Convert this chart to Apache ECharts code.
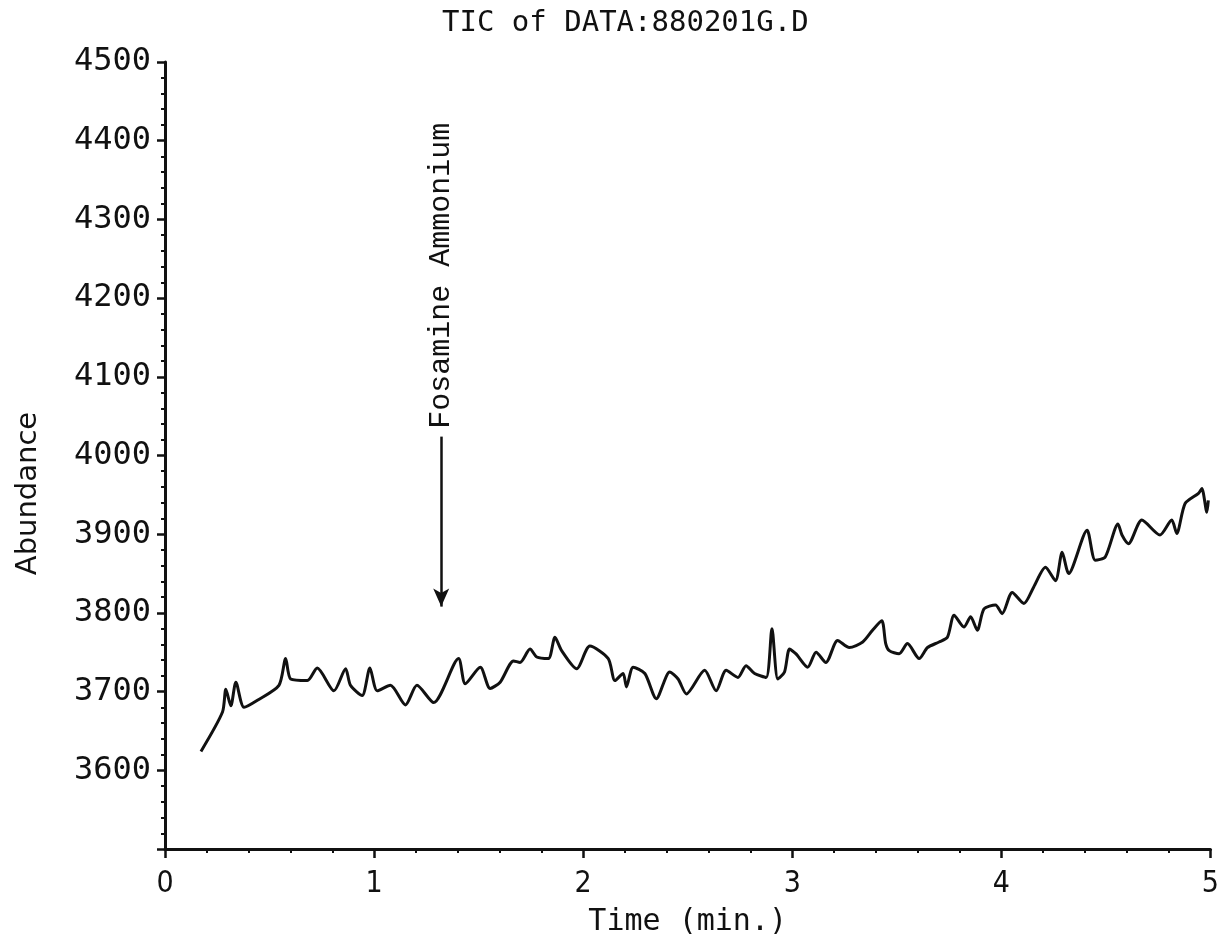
<!DOCTYPE html>
<html>
<head>
<meta charset="utf-8">
<title>TIC of DATA:880201G.D</title>
<script src="https://cdn.jsdelivr.net/npm/echarts@6/dist/echarts.min.js"></script>
<style>
    html, body { margin: 0; padding: 0; background: #fff; }
    #main { width: 1222px; height: 942px; }
</style>
</head>
<body>
<div id="main"></div>
<script>
// 数据
var times = [0.172, 0.275, 0.291, 0.315, 0.339, 0.378, 0.442, 0.545, 0.577, 0.601,
    0.681, 0.728, 0.808, 0.864, 0.887, 0.943, 0.980, 1.015, 1.078, 1.150,
    1.205, 1.285, 1.404, 1.436, 1.508, 1.555, 1.603, 1.667, 1.698, 1.746,
    1.778, 1.834, 1.865, 1.897, 1.969, 2.032, 2.120, 2.152, 2.191, 2.207,
    2.239, 2.295, 2.350, 2.414, 2.454, 2.494, 2.581, 2.636, 2.684, 2.740,
    2.779, 2.820, 2.875, 2.903, 2.931, 2.963, 2.987, 3.018, 3.074, 3.114,
    3.161, 3.217, 3.273, 3.337, 3.384, 3.428, 3.447, 3.464, 3.511, 3.551,
    3.607, 3.647, 3.702, 3.742, 3.774, 3.821, 3.853, 3.885, 3.917, 3.972,
    4.004, 4.052, 4.108, 4.155, 4.211, 4.259, 4.291, 4.322, 4.410, 4.449,
    4.497, 4.558, 4.577, 4.608, 4.672, 4.759, 4.815, 4.839, 4.879, 4.943,
    4.959, 4.983, 4.990]
var abundance = [3624, 3674, 3703, 3682, 3712, 3680, 3689, 3708, 3742, 3716,
    3714, 3730, 3701, 3729, 3708, 3695, 3730, 3701, 3708, 3683,
    3708, 3686, 3742, 3710, 3731, 3704, 3712, 3739, 3737, 3754,
    3744, 3742, 3769, 3752, 3729, 3758, 3742, 3714, 3723, 3706,
    3731, 3723, 3691, 3725, 3716, 3697, 3727, 3701, 3727, 3718,
    3733, 3723, 3718, 3780, 3716, 3725, 3754, 3748, 3731, 3750,
    3737, 3765, 3756, 3763, 3778, 3790, 3761, 3752, 3748, 3761,
    3742, 3756, 3763, 3769, 3797, 3782, 3795, 3778, 3805, 3810,
    3799, 3826, 3812, 3833, 3858, 3841, 3877, 3850, 3905, 3867,
    3871, 3913, 3899, 3888, 3918, 3899, 3918, 3901, 3939, 3952,
    3958, 3928, 3943]
var xTicks = [0, 1, 2, 3, 4, 5]
var yTicks = [3500, 3600, 3700, 3800, 3900, 4000, 4100, 4200, 4300, 4400, 4500]

var noteText = 'Fosamine Ammonium'
var noteTime = 1.321
var arrowFrom = 3808
var arrowTo = 4024
var noteStart = 4034

var chart = function () {

}

chart.prototype = {
    init: function () {
        this.myChart = echarts.init(document.getElementById('main'));
        this.initChart()
        this.initNote()
    },
    initChart: function () {
        var data = times.map(function (t, i) { return [t, abundance[i]] })

        var option = {
            animation: false,
            backgroundColor: '#fff',
            title: {
                text: 'TIC of DATA:880201G.D',
                left: 437,
                top: 4,
                textStyle: {
                    fontFamily: 'DejaVu Sans Mono',
                    fontSize: 29,
                    fontWeight: 'normal',
                    color: '#111'
                }
            },
            grid: {
                left: 165,
                right: 10,
                top: 62,
                bottom: 92
            },
            xAxis: {
                type: 'value',
                min: xTicks[0],
                max: xTicks[xTicks.length - 1],
                interval: 1,
                name: 'Time (min.)',
                nameLocation: 'middle',
                nameGap: 58,
                nameTextStyle: {
                    fontFamily: 'DejaVu Sans Mono',
                    fontSize: 30,
                    color: '#111'
                },
                axisLine: { lineStyle: { color: '#111', width: 3 } },
                axisTick: { length: 9, lineStyle: { color: '#111', width: 2.5 } },
                minorTick: { show: true, splitNumber: 5, length: 4, lineStyle: { color: '#111', width: 2 } },
                splitLine: { show: false },
                axisLabel: {
                    margin: 20,
                    fontFamily: 'DejaVu Sans Condensed',
                    fontSize: 30,
                    color: '#111'
                }
            },
            yAxis: {
                type: 'value',
                min: yTicks[0],
                max: yTicks[yTicks.length - 1],
                interval: 100,
                name: 'Abundance',
                nameLocation: 'middle',
                nameGap: 122,
                nameTextStyle: {
                    fontFamily: 'DejaVu Sans',
                    fontSize: 29,
                    color: '#111',
                    padding: [0, 76, 0, 0]
                },
                axisLine: { show: true, lineStyle: { color: '#111', width: 3 } },
                axisTick: { show: true, length: 8, lineStyle: { color: '#111', width: 2.5 } },
                minorTick: { show: true, splitNumber: 5, length: 4, lineStyle: { color: '#111', width: 2 } },
                splitLine: { show: false },
                axisLabel: {
                    margin: 14,
                    fontFamily: 'DejaVu Sans Mono',
                    fontSize: 32,
                    color: '#111',
                    formatter: function (v) {
                        return v === yTicks[0] ? '' : v
                    }
                }
            },
            series: [{
                type: 'line',
                data: data,
                showSymbol: false,
                smooth: 0.25,
                lineStyle: { color: '#111', width: 3 },
                markLine: {
                    silent: true,
                    symbol: ['arrow', 'none'],
                    symbolSize: [12, 18],
                    label: { show: false },
                    lineStyle: { color: '#111', width: 2.5, type: 'solid' },
                    data: [[
                        { coord: [noteTime, arrowFrom] },
                        { coord: [noteTime, arrowTo] }
                    ]]
                }
            }]
        };

        this.myChart.setOption(option);
    },
    initNote: function () {
        // 注释文字, placed from the data point
        var p = this.myChart.convertToPixel({ gridIndex: 0 }, [noteTime, noteStart])
        this.myChart.setOption({
            graphic: [{
                type: 'text',
                x: p[0],
                y: p[1],
                rotation: Math.PI / 2,
                style: {
                    text: noteText,
                    fontFamily: 'Liberation Mono',
                    fontSize: 30,
                    fill: '#111',
                    textAlign: 'left',
                    textVerticalAlign: 'middle'
                }
            }]
        })
    }
}

new chart().init()
</script>
</body>
</html>
